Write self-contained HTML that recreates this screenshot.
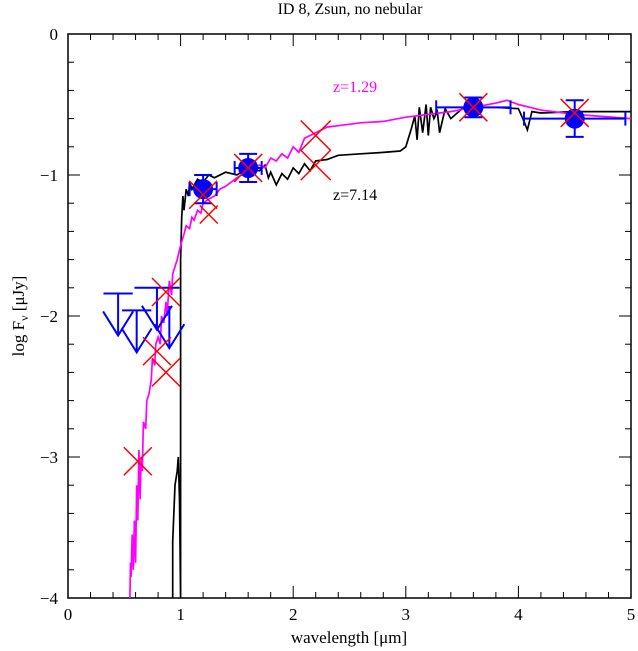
<!DOCTYPE html>
<html><head><meta charset="utf-8"><style>
body{margin:0;background:#fff;overflow:hidden}
svg text{font-family:"Liberation Serif",serif}
</style></head><body>
<svg id="c" width="638" height="651" viewBox="0 0 638 651" style="display:block">
<text x="350" y="14" font-size="16" text-anchor="middle">ID 8, Zsun, no nebular</text>
<g id="axes"></g>
<g id="series"></g>
<text x="349" y="643" font-size="17" text-anchor="middle">wavelength [μm]</text>
<text transform="translate(24,316) rotate(-90)" font-size="17" text-anchor="middle">log F<tspan font-size="12" dy="4">ν</tspan><tspan dy="-4"> [μJy]</tspan></text>
<text x="333" y="92" font-size="16" fill="#f0f">z=1.29</text>
<text x="333" y="200" font-size="16" fill="#000">z=7.14</text>
</svg>
<script>
const magentaX=[0.55,0.555,0.56,0.57,0.58,0.59,0.6,0.61,0.62,0.63,0.64,0.65,0.66,0.67,0.69,0.7,0.72,0.74,0.75,0.77,0.78,0.8,0.82,0.83,0.85,0.87,0.88,0.9,0.92,0.93,0.95,0.97,1.0,1.03,1.05,1.08,1.1,1.12,1.15,1.18,1.2,1.25,1.3,1.35,1.4,1.5,1.6,1.7,1.75,1.8,1.85,1.9,1.95,2.0,2.05,2.1,2.2,2.3,2.4,2.6,2.8,3.0,3.2,3.4,3.6,3.8,3.9,4.0,4.2,4.5,5.0];
const magentaY=[-4.0,-3.75,-3.85,-3.55,-3.8,-3.45,-3.75,-3.2,-3.45,-2.95,-3.3,-3.0,-3.1,-2.75,-2.8,-2.6,-2.55,-2.45,-2.3,-2.35,-2.2,-2.15,-2.2,-2.0,-2.05,-1.9,-2.0,-1.75,-1.85,-1.7,-1.65,-1.6,-1.5,-1.42,-1.36,-1.38,-1.3,-1.32,-1.25,-1.27,-1.2,-1.17,-1.15,-1.1,-1.08,-1.02,-0.97,-0.93,-0.95,-0.88,-0.9,-0.85,-0.88,-0.8,-0.84,-0.74,-0.7,-0.66,-0.65,-0.63,-0.62,-0.59,-0.57,-0.55,-0.52,-0.49,-0.47,-0.5,-0.54,-0.57,-0.6];
const blackX=[0.93,0.93,0.95,0.97,0.98,0.99,1.0,1.0,1.01,1.02,1.03,1.05,1.07,1.08,1.1,1.15,1.2,1.25,1.3,1.4,1.5,1.6,1.7,1.75,1.78,1.8,1.85,1.9,1.95,2.0,2.05,2.1,2.15,2.2,2.3,2.4,2.6,2.8,2.95,3.0,3.05,3.08,3.1,3.12,3.15,3.18,3.2,3.22,3.25,3.28,3.3,3.35,3.4,3.5,3.6,3.8,4.0,4.05,4.08,4.12,4.2,4.5,5.0];
const blackY=[-4.0,-3.6,-3.2,-3.1,-3.0,-3.3,-4.0,-1.6,-1.3,-1.15,-1.25,-1.1,-1.15,-1.05,-1.1,-1.03,-1.05,-1.0,-1.02,-0.98,-1.0,-0.95,-0.97,-0.93,-1.02,-0.98,-1.07,-0.99,-1.03,-0.95,-0.99,-0.92,-0.97,-0.9,-0.89,-0.86,-0.85,-0.84,-0.83,-0.8,-0.67,-0.58,-0.75,-0.52,-0.7,-0.5,-0.72,-0.52,-0.6,-0.55,-0.7,-0.53,-0.6,-0.53,-0.52,-0.52,-0.53,-0.62,-0.68,-0.55,-0.56,-0.55,-0.55];
const detX=[1.2,1.6,3.6,4.5];
const detY=[-1.1,-0.95,-0.52,-0.6];
const detXErr=[0.12,0.12,0.33,0.45];
const detYErr=[0.1,0.1,0.07,0.13];
const limX=[0.445,0.61,0.79,0.9];
const limY=[-1.84,-1.96,-1.80,-1.93];
const limXErr=[0.13,0.13,0.2,0];
const modX=[0.62,0.79,0.87,0.87,1.2,1.25,1.6,2.2,2.2,3.6,4.5];
const modY=[-3.03,-2.25,-1.83,-2.4,-1.14,-1.28,-0.95,-0.72,-0.93,-0.52,-0.56];
const modSize=[14,14,14,14,14,9,14,15,15,14,14];
const xTicks=[0,1,2,3,4,5];
const yTicks=[0,-1,-2,-3,-4];

const X0=68,X1=631,Y0=34,Y1=598;
const sx=v=>X0+(v-0)/5*(X1-X0);
const sy=v=>Y0+(0-v)/4*(Y1-Y0);
const NS='http://www.w3.org/2000/svg';
function mk(t,a,p){const e=document.createElementNS(NS,t);for(const k in a)e.setAttribute(k,a[k]);p.appendChild(e);return e;}
const ax=document.getElementById('axes'),se=document.getElementById('series');
const box=mk('rect',{x:X0,y:Y0,width:X1-X0,height:Y1-Y0,fill:'none',stroke:'#000','stroke-width':1.5},ax);


for(let i=0;i<=25;i++){const v=i*0.2,x=sx(v),L=i%5==0?12:6;
 mk('line',{x1:x,y1:Y1,x2:x,y2:Y1-L,stroke:'#000'},ax);mk('line',{x1:x,y1:Y0,x2:x,y2:Y0+L,stroke:'#000'},ax);}
for(let i=0;i<=20;i++){const v=-i*0.2,y=sy(v),L=i%5==0?12:6;
 mk('line',{x1:X0,y1:y,x2:X0+L,y2:y,stroke:'#000'},ax);mk('line',{x1:X1,y1:y,x2:X1-L,y2:y,stroke:'#000'},ax);}
xTicks.forEach(v=>{const t=mk('text',{x:sx(v),y:Y1+22,'font-size':17,'text-anchor':'middle'},ax);t.textContent=v;
 
 });
yTicks.forEach(v=>{const t=mk('text',{x:X0-10,y:sy(v)+6,'font-size':17,'text-anchor':'end'},ax);t.textContent=v==0?'0':'−'+(-v);
 
 });
function line(xs,ys,col,name){const d=xs.map((x,i)=>(i?'L':'M')+sx(x).toFixed(1)+','+Math.max(Y0,Math.min(Y1,sy(ys[i]))).toFixed(1)).join('');
 const p=mk('path',{d:d,fill:'none',stroke:col,'stroke-width':1.7},se);
 
 }
line(blackX,blackY,'#000','spectrum-z7');
line(magentaX,magentaY,'#f0f','spectrum-z1');
limX.forEach((x,i)=>{const g=mk('g',{stroke:'#00f','stroke-width':2,fill:'none'},se);
 
 
 const px=sx(x),py=sy(limY[i]),tip=py+42;
 if(limXErr[i]>0)mk('line',{x1:sx(x-limXErr[i]),y1:py,x2:sx(x+limXErr[i]),y2:py},g);
 mk('line',{x1:px,y1:py,x2:px,y2:tip},g);
 mk('path',{d:`M${px-15},${tip-24}L${px},${tip}L${px+15},${tip-24}`},g);});
detX.forEach((x,i)=>{const g=mk('g',{stroke:'#00f','stroke-width':2},se);
 
 
 const px=sx(x),py=sy(detY[i]),x1=sx(x-detXErr[i]),x2=sx(x+detXErr[i]),ya=sy(detY[i]+detYErr[i]),yb=sy(detY[i]-detYErr[i]);
 mk('line',{x1:x1,y1:py,x2:x2,y2:py},g);mk('line',{x1:x1,y1:py-7,x2:x1,y2:py+7},g);mk('line',{x1:x2,y1:py-7,x2:x2,y2:py+7},g);
 mk('line',{x1:px,y1:ya,x2:px,y2:yb},g);mk('line',{x1:px-9,y1:ya,x2:px+9,y2:ya},g);mk('line',{x1:px-9,y1:yb,x2:px+9,y2:yb},g);
 mk('circle',{cx:px,cy:py,r:10,fill:'#00f',stroke:'none'},g);});
modX.forEach((x,i)=>{const px=sx(x),py=sy(modY[i]),s=modSize[i];
 const p=mk('path',{d:`M${px-s},${py-s}L${px+s},${py+s}M${px-s},${py+s}L${px+s},${py-s}`,stroke:'#f00','stroke-width':1.5},se);
 
 });
</script>
</body></html>
